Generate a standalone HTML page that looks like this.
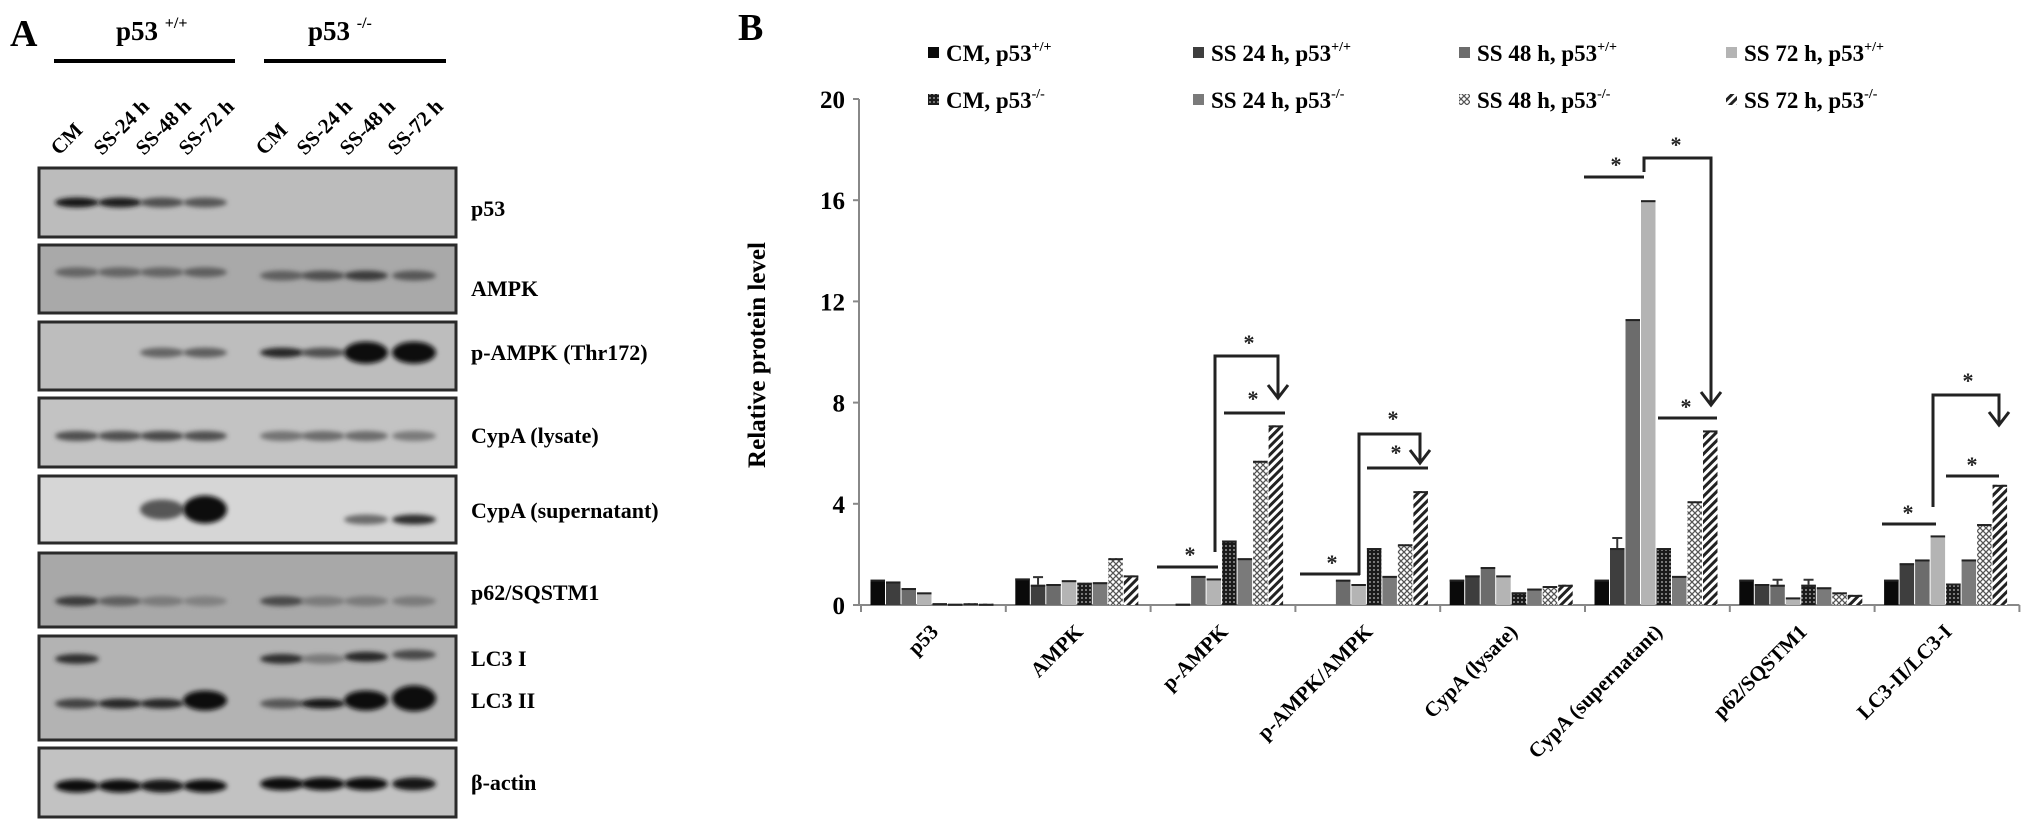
<!DOCTYPE html>
<html><head><meta charset="utf-8">
<style>
html,body{margin:0;padding:0;background:#fff;}
svg{display:block;font-family:"Liberation Serif",serif;font-weight:bold;}
</style></head>
<body>
<svg id="fig" width="2031" height="831" viewBox="0 0 2031 831" xmlns="http://www.w3.org/2000/svg">
<defs>
  <filter id="blur" x="-20%" y="-50%" width="140%" height="200%"><feGaussianBlur stdDeviation="2.5"/></filter>
  <pattern id="pDots" width="4" height="4" patternUnits="userSpaceOnUse">
    <rect width="4" height="4" fill="#1a1a1a"/><circle cx="2" cy="2" r="0.9" fill="#bbb"/>
  </pattern>
  <pattern id="pCheck" width="6" height="6" patternUnits="userSpaceOnUse">
    <rect width="6" height="6" fill="#fff"/><path d="M0 0L6 6M6 0L0 6" stroke="#555" stroke-width="1.3"/>
  </pattern>
  <pattern id="pStripe" width="6" height="6" patternUnits="userSpaceOnUse" patternTransform="rotate(45)">
    <rect width="6" height="6" fill="#fff"/><rect width="3" height="6" fill="#222"/>
  </pattern>
</defs>

<!-- Panel A -->
<g>
  <text x="10" y="46" font-size="38">A</text>
  <text x="116" y="40" font-size="27">p53 <tspan font-size="16" dy="-12">+/+</tspan></text>
  <rect x="54" y="59" width="181" height="4" fill="#000"/>
  <text x="308" y="40" font-size="27">p53 <tspan font-size="16" dy="-12">-/-</tspan></text>
  <rect x="264" y="59" width="182" height="4" fill="#000"/>
  <g id="lanes" font-size="21"></g>
  <g id="blots"></g>
</g>

<!-- Panel B -->
<g>
  <text x="738" y="40" font-size="38">B</text>
  <g id="legend" font-size="23"></g>
  <text transform="translate(765,355) rotate(-90)" text-anchor="middle" font-size="25">Relative protein level</text>
  <g id="axes"></g>
  <g id="bars"></g>
  <g id="annot" stroke="#222" stroke-width="3" fill="none"></g>
</g>
</svg>
<script>
// ---------- chart data ----------
const categories = ["p53","AMPK","p-AMPK","p-AMPK/AMPK","CypA  (lysate)","CypA  (supernatant)","p62/SQSTM1","LC3-II/LC3-I"];
const seriesNames = ["CM,  p53+/+","SS 24 h,  p53+/+","SS 48 h,  p53+/+","SS 72 h,  p53+/+","CM,  p53-/-","SS 24 h,  p53-/-","SS 48 h,  p53-/-","SS 72 h,  p53-/-"];
const cmWT    = [1.0, 1.05, 0.0, 0.0, 1.0, 1.0, 1.0, 1.0];
const ss24WT  = [0.93, 0.8, 0.05, 0.0, 1.17, 2.25, 0.83, 1.65];
const ss48WT  = [0.67, 0.83, 1.15, 1.0, 1.5, 11.3, 0.8, 1.8];
const ss72WT  = [0.5, 0.98, 1.05, 0.83, 1.17, 16.0, 0.3, 2.75];
const cmKO    = [0.07, 0.88, 2.55, 2.25, 0.5, 2.25, 0.8, 0.85];
const ss24KO  = [0.05, 0.9, 1.85, 1.15, 0.65, 1.15, 0.7, 1.8];
const ss48KO  = [0.07, 1.85, 5.7, 2.4, 0.75, 4.1, 0.5, 3.2];
const ss72KO  = [0.05, 1.17, 7.1, 4.5, 0.8, 6.9, 0.4, 4.75];
const errAMPK24 = 0.3, errSup24 = 0.4, errP62 = 0.2;
const yTicks = [0,4,8,12,16,20];
const yTickLabels = ["0","4","8","12","16","20"];

// ---------- geometry ----------
const X0 = 861, CAT_W = 144.8, Y0 = 605, Y_PER = 25.3, BAR_W = 15.5, BAR_OFF = 9.5;
const AX_LEFT = 859;
const yScale = v => Y0 - v * Y_PER;
const xCat = i => X0 + i * CAT_W;
const fills = ["#0a0a0a","#3e3e3e","#6c6c6c","#b4b4b4","url(#pDots)","#7a7a7a","url(#pCheck)","url(#pStripe)"];
const series = [cmWT, ss24WT, ss48WT, ss72WT, cmKO, ss24KO, ss48KO, ss72KO];
const NS = "http://www.w3.org/2000/svg";
function mk(tag, attrs, parent){const e=document.createElementNS(NS,tag);for(const k in attrs)e.setAttribute(k,attrs[k]);parent.appendChild(e);return e;}

// axes
const axes = document.getElementById('axes');
const yAxis = mk('line',{x1:AX_LEFT,y1:yScale(20),x2:AX_LEFT,y2:Y0,stroke:'#888','stroke-width':2},axes);


const xAxis = mk('line',{x1:AX_LEFT,y1:Y0,x2:xCat(categories.length),y2:Y0,stroke:'#888','stroke-width':2},axes);


yTicks.forEach((t,i)=>{
  const tk = mk('line',{x1:AX_LEFT-6,y1:yScale(t),x2:AX_LEFT,y2:yScale(t),stroke:'#888','stroke-width':2},axes);
  
  
  const tl = mk('text',{x:AX_LEFT-14,y:yScale(t)+9,'text-anchor':'end','font-size':25},axes);
  tl.textContent = yTickLabels[i];
  
  
});
for(let i=0;i<=categories.length;i++){
  const tk = mk('line',{x1:xCat(i),y1:Y0,x2:xCat(i),y2:Y0+7,stroke:'#888','stroke-width':2},axes);
  
  
}
categories.forEach((c,i)=>{
  const cx = xCat(i)+CAT_W/2+6;
  const tl = mk('text',{x:cx,y:Y0+28,'text-anchor':'end','font-size':21,transform:`rotate(-45 ${cx} ${Y0+28})`},axes);
  tl.textContent = c;
  
  
});

// bars
const barsG = document.getElementById('bars');
series.forEach((arr,s)=>{
  arr.forEach((v,i)=>{
    const x = xCat(i)+BAR_OFF+s*BAR_W;
    const y = yScale(v);
    const r = mk('rect',{x:x,y:y,width:BAR_W-1,height:Math.max(0,Y0-y),fill:fills[s]},barsG);
    
    
    if(v>0.02){
      const cap = mk('line',{x1:x,y1:y+1,x2:x+BAR_W-1,y2:y+1,stroke:'#222','stroke-width':2},barsG);
      
      
    }
  });
});
// error bars
[[1,1,errAMPK24],[1,5,errSup24],[2,6,errP62],[4,6,errP62]].forEach(([s,i,e])=>{
  const cx = xCat(i)+BAR_OFF+s*BAR_W+(BAR_W-1)/2;
  const v = series[s][i];
  const eb = mk('path',{d:`M${cx} ${yScale(v)} V${yScale(v+e)} M${cx-5} ${yScale(v+e)} H${cx+5}`,stroke:'#333','stroke-width':2,fill:'none'},barsG);
  
  
});

// legend
const legend = document.getElementById('legend');
const legX = [928,1193,1459,1726], legY=[53,100];
seriesNames.forEach((n,s)=>{
  const col=s%4,row=Math.floor(s/4);
  const g = mk('g',{},legend);
  
  
  mk('rect',{x:legX[col],y:legY[row]-6,width:11,height:11,fill:fills[s]},g);
  const parts = n.split('p53');
  const t = mk('text',{x:legX[col]+18,y:legY[row]+8},g);
  t.appendChild(document.createTextNode(parts[0]+'p53'));
  const sup = mk('tspan',{'font-size':14,dy:-10},t);
  sup.textContent = parts[1];
});

// significance annotations
const annot = document.getElementById('annot');
function star(x,y){const t=mk('text',{x:x,y:y,'text-anchor':'middle','font-size':22,fill:'#222',stroke:'none'},annot);t.textContent='*';}
function line(d,name){const p=mk('path',{d:d},annot);}
line('M1157 567 H1218','sig-line');star(1190,562);
line('M1215 552 V356 H1278 V398 M1268 385 L1278 398 L1288 385','sig-bracket-arrow');star(1249,350);
line('M1224 413 H1285','sig-line');star(1253,406);
line('M1300 574 H1360','sig-line');star(1332,570);
line('M1359 575 V434 H1420 V463 M1410 450 L1420 463 L1430 450','sig-bracket-arrow');star(1393,426);
line('M1367 468 H1428','sig-line');star(1396,460);
line('M1584 177 H1644','sig-line');star(1616,172);
line('M1644 172 V158 H1711 V405 M1701 392 L1711 405 L1721 392','sig-bracket-arrow');star(1676,152);
line('M1658 418 H1717','sig-line');star(1686,414);
line('M1882 524 H1936','sig-line');star(1908,520);
line('M1933 507 V395 H1999 V425 M1989 412 L1999 425 L2009 412','sig-bracket-arrow');star(1968,388);
line('M1946 476 H1999','sig-line');star(1972,472);

// ---------- Panel A blots ----------
const laneNames = ["CM","SS-24 h","SS-48 h","SS-72 h","CM","SS-24 h","SS-48 h","SS-72 h"];
const laneX = [77,120,162,205,282,323,366,414];
const lanesG = document.getElementById('lanes');
laneNames.forEach((n,i)=>{
  const x=laneX[i]-18,y=156;
  const t=mk('text',{x:x,y:y,transform:`rotate(-45 ${x} ${y})`},lanesG);
  t.textContent=n;
  
  
});
const blots = [
  {name:"p53",y:168,h:69,bg:"#bcbcbc",labels:[["p53",216]],bands:[[0,0.5,.9],[1,0.5,.85],[2,0.5,.5],[3,0.5,.45]]},
  {name:"AMPK",y:245,h:68,bg:"#a9a9a9",labels:[["AMPK",296]],bands:[[0,.4,.35],[1,.4,.35],[2,.4,.35],[3,.4,.4],[4,.45,.4],[5,.45,.5],[6,.45,.65],[7,.45,.45]]},
  {name:"p-AMPK",y:322,h:68,bg:"#bdbdbd",labels:[["p-AMPK (Thr172)",360]],bands:[[2,.45,.35],[3,.45,.4],[4,.45,.8],[5,.45,.5],[6,.45,1,22],[7,.45,1,22]]},
  {name:"CypA-lysate",y:398,h:69,bg:"#c3c3c3",labels:[["CypA (lysate)",443]],bands:[[0,.55,.5],[1,.55,.5],[2,.55,.55],[3,.55,.5],[4,.55,.25],[5,.55,.3],[6,.55,.3],[7,.55,.2]]},
  {name:"CypA-supernatant",y:476,h:67,bg:"#d6d6d6",labels:[["CypA (supernatant)",518]],bands:[[2,.5,.45,20],[3,.5,.95,28],[6,.65,.3],[7,.65,.75]]},
  {name:"p62",y:553,h:74,bg:"#a8a8a8",labels:[["p62/SQSTM1",600]],bands:[[0,.65,.65],[1,.65,.4],[2,.65,.2],[3,.65,.15],[4,.65,.55],[5,.65,.2],[6,.65,.2],[7,.65,.2]]},
  {name:"LC3",y:636,h:104,bg:"#b3b3b3",labels:[["LC3 I",666],["LC3 II",708]],bands:[[0,.22,.75],[4,.22,.75],[5,.22,.2],[6,.2,.8],[7,.18,.55],[0,.65,.6],[1,.65,.8],[2,.65,.8],[3,.62,1,20],[4,.65,.45],[5,.65,.9],[6,.62,1,20],[7,.6,1,26]]},
  {name:"beta-actin",y:748,h:69,bg:"#c2c2c2",labels:[["β-actin",790]],bands:[[0,.55,.95,13],[1,.55,.95,13],[2,.55,.9,13],[3,.55,.95,13],[4,.52,.95,13],[5,.52,.95,13],[6,.52,.95,13],[7,.52,.9,13]]}
];
const blotsG = document.getElementById('blots');
blots.forEach(b=>{
  const g=mk('g',{},blotsG);
  
  
  mk('rect',{x:39,y:b.y,width:417,height:b.h,fill:b.bg,stroke:'#2a2a2a','stroke-width':3},g);
  b.bands.forEach(([l,fy,dark,h])=>{
    const shade=Math.round(150-140*dark);
    mk('ellipse',{cx:laneX[l],cy:b.y+b.h*fy,rx:22,ry:(h||10)/2,fill:`rgb(${shade},${shade},${shade})`,filter:'url(#blur)'},g);
  });
  b.labels.forEach(([t,y])=>{
    const tx=mk('text',{x:471,y:y,'font-size':22},g);
    tx.textContent=t;
    
    
  });
});
</script>
</body></html>
